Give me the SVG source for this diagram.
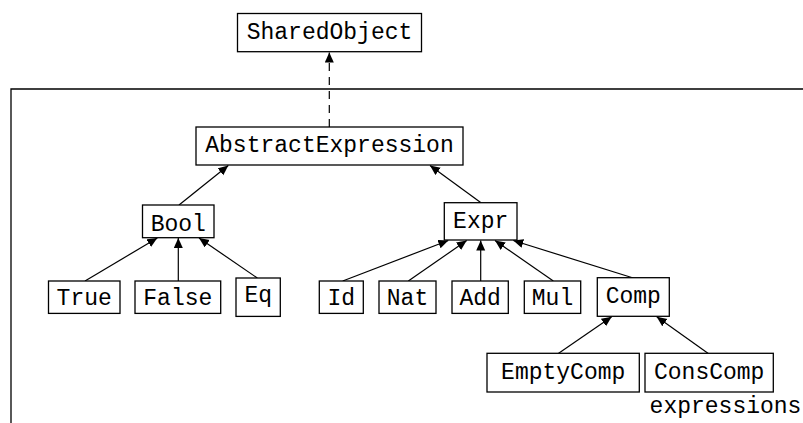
<svg xmlns="http://www.w3.org/2000/svg" width="803" height="423" viewBox="0 0 803 423">
  <style>
    .box { fill: #fff; stroke: #000; stroke-width: 1.3; }
    .lbl { font-family: "Liberation Mono", "DejaVu Sans Mono", monospace; font-size: 23px; fill: #000; text-anchor: middle; }
    .edge { stroke: #000; stroke-width: 1.2; fill: none; marker-end: url(#head); }
    .dashed { stroke-dasharray: 8 6; }
    .frame { stroke: #000; stroke-width: 1.3; fill: none; }
  </style>
  <defs>
    <marker id="head" markerUnits="userSpaceOnUse" markerWidth="11" markerHeight="10" refX="10" refY="4.5" orient="auto">
      <path d="M0,0 L10,4.5 L0,9 z" fill="#000"/>
    </marker>
  </defs>
  <rect width="803" height="423" fill="#fff"/>

  <!-- package frame -->
  <path class="frame" d="M11,423 L11,89 L803,89"/>

  <g id="connectors">
    <line class="edge dashed" x1="329.3" y1="127" x2="329.3" y2="52.5"/>
    <line class="edge" x1="179" y1="205" x2="228.3" y2="165.5"/>
    <line class="edge" x1="481" y1="202.7" x2="430" y2="165.5"/>
    <line class="edge" x1="85" y1="281" x2="157.3" y2="238"/>
    <line class="edge" x1="178.3" y1="281" x2="178.3" y2="238"/>
    <line class="edge" x1="257.3" y1="278" x2="199" y2="238"/>
    <line class="edge" x1="342.7" y1="281" x2="448.3" y2="240.5"/>
    <line class="edge" x1="408.3" y1="281" x2="466.7" y2="240.5"/>
    <line class="edge" x1="480.7" y1="281" x2="480.7" y2="240.5"/>
    <line class="edge" x1="553.3" y1="281" x2="495" y2="240.5"/>
    <line class="edge" x1="633.3" y1="278" x2="513.3" y2="240.5"/>
    <line class="edge" x1="558.3" y1="353.5" x2="611.7" y2="316.8"/>
    <line class="edge" x1="708.3" y1="353.5" x2="656.7" y2="316.8"/>
  </g>

  <g id="SharedObject">
    <rect class="box" x="237.5" y="13.5" width="184" height="38.2"/>
    <text class="lbl" x="329.5" y="38.5">SharedObject</text>
  </g>
  <g id="AbstractExpression">
    <rect class="box" x="196" y="127" width="267" height="38"/>
    <text class="lbl" x="329.5" y="152">AbstractExpression</text>
  </g>
  <g id="Bool">
    <rect class="box" x="142.5" y="205" width="71.5" height="32.7"/>
    <text class="lbl" x="178.3" y="230.5">Bool</text>
  </g>
  <g id="Expr">
    <rect class="box" x="444.3" y="202.7" width="72.7" height="37.3"/>
    <text class="lbl" x="480.7" y="228.3">Expr</text>
  </g>
  <g id="True">
    <rect class="box" x="48.5" y="281" width="71.5" height="32.4"/>
    <text class="lbl" x="84.2" y="305">True</text>
  </g>
  <g id="False">
    <rect class="box" x="135" y="281" width="85.7" height="32.4"/>
    <text class="lbl" x="177.8" y="305">False</text>
  </g>
  <g id="Eq">
    <rect class="box" x="236" y="278" width="44.3" height="38.4"/>
    <text class="lbl" x="258.2" y="302">Eq</text>
  </g>
  <g id="Id">
    <rect class="box" x="319.3" y="281" width="44" height="32.4"/>
    <text class="lbl" x="341.3" y="305">Id</text>
  </g>
  <g id="Nat">
    <rect class="box" x="379" y="281" width="57" height="32.4"/>
    <text class="lbl" x="407.5" y="305">Nat</text>
  </g>
  <g id="Add">
    <rect class="box" x="452" y="281" width="56.3" height="32.4"/>
    <text class="lbl" x="480.2" y="305">Add</text>
  </g>
  <g id="Mul">
    <rect class="box" x="524.3" y="281" width="56.4" height="32.4"/>
    <text class="lbl" x="552.5" y="305">Mul</text>
  </g>
  <g id="Comp">
    <rect class="box" x="597.3" y="277.7" width="72" height="38.6"/>
    <text class="lbl" x="633.3" y="303.3">Comp</text>
  </g>
  <g id="EmptyComp">
    <rect class="box" x="487" y="353.3" width="152.3" height="38.7"/>
    <text class="lbl" x="563.2" y="378.5">EmptyComp</text>
  </g>
  <g id="ConsComp">
    <rect class="box" x="645" y="353.3" width="128.3" height="38.7"/>
    <text class="lbl" x="709.2" y="378.5">ConsComp</text>
  </g>

  <text class="lbl" x="725.5" y="413" style="text-anchor: middle">expressions</text>
</svg>
